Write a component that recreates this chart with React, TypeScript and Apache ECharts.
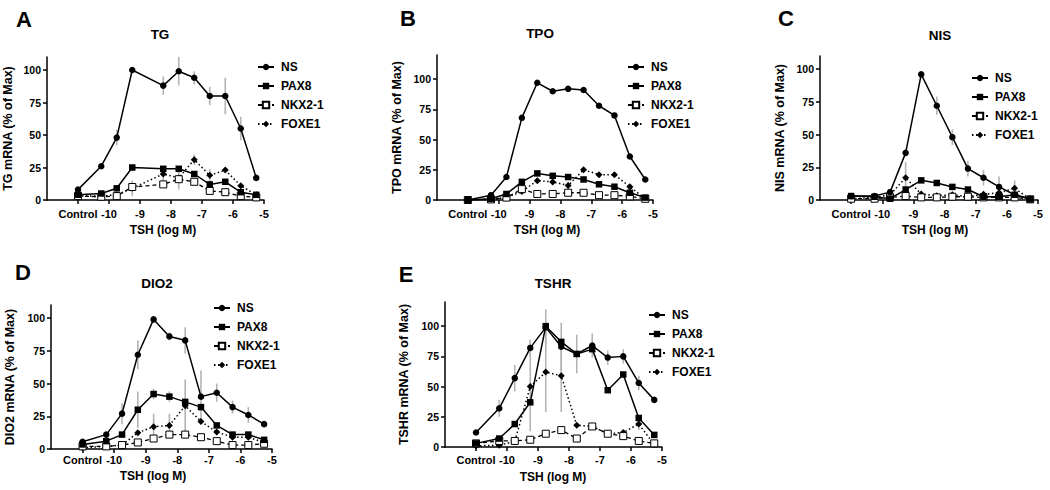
import React, { useEffect, useRef } from "react";
import * as echarts from "echarts";

// ---------- data ----------
const X_FULL = [-11, -10.25, -9.75, -9.25, -8.75, -8.25, -7.75, -7.25, -6.75, -6.25, -5.75, -5.25];
const X_TG = [-11, -10.25, -9.75, -9.25, -8.25, -7.75, -7.25, -6.75, -6.25, -5.75, -5.25];
const SERIES_NAMES = ["NS", "PAX8", "NKX2-1", "FOXE1"];
const X_TICKS = [-11, -10, -9, -8, -7, -6, -5];
const Y_TICKS = [0, 25, 50, 75, 100];

// TG (A)
const TG_NS = [8, 26, 48, 100, 88, 99, 94, 80, 80, 55, 17];
const TG_PAX8 = [4, 5, 9, 25, 24, 24, 20, 12, 14, 6, 4];
const TG_NKX21 = [3, 2.5, 3, 10, 12, 16, 14, 7, 6, 3, 2];
const TG_FOXE1 = [3, 3, 4, 9, 20, 17, 31, 19, 23, 11, 4];
const TG_NS_ERR = [0, 0, 6, 0, 7, 11, 5, 7, 14, 9, 0];
const TG_PAX8_ERR = [0, 0, 0, 0, 0, 0, 0, 0, 0, 0, 0];
const TG_NKX21_ERR = [0, 0, 0, 0, 0, 8, 0, 0, 0, 0, 0];
const TG_FOXE1_ERR = [0, 0, 0, 6, 6, 0, 4, 5, 0, 0, 0];

// TPO (B)
const TPO_NS = [0, 4, 19, 68, 97, 90, 92, 91, 78, 70, 36, 17];
const TPO_PAX8 = [0, 1, 5, 15, 22, 20, 19, 17, 13, 11, 6, 2];
const TPO_NKX21 = [0, 0.5, 2, 9, 5, 5, 6, 6, 4, 4, 3, 1];
const TPO_FOXE1 = [0, 0.5, 2, 7, 16, 15, 12, 25, 21, 21, 11, 1];
const TPO_NS_ERR = [0, 0, 0, 0, 0, 0, 0, 0, 0, 0, 0, 0];
const TPO_PAX8_ERR = [0, 0, 0, 0, 0, 0, 0, 0, 0, 0, 0, 0];
const TPO_NKX21_ERR = [0, 0, 0, 0, 0, 0, 0, 0, 0, 0, 0, 0];
const TPO_FOXE1_ERR = [0, 0, 0, 0, 0, 0, 3, 0, 0, 0, 0, 0];

// NIS (C)
const NIS_NS = [3, 3, 6, 36, 96, 72, 48, 24, 17, 10, 4, 1];
const NIS_PAX8 = [3, 2.5, 1, 8, 15, 13, 10, 8, 2.5, 2.5, 4, 0.5];
const NIS_NKX21 = [1, 1, 2, 3, 2, 2, 2.5, 2.5, 2, 2, 2, 0.5];
const NIS_FOXE1 = [1, 2, 4, 17, 4.5, 3.3, 4, 2.5, 4.3, 5.5, 9, 0.5];
const NIS_NS_ERR = [0, 0, 0, 0, 0, 7, 6, 6, 6, 8, 0, 0];
const NIS_PAX8_ERR = [0, 0, 0, 0, 0, 0, 0, 0, 0, 0, 0, 0];
const NIS_NKX21_ERR = [0, 0, 0, 0, 0, 0, 0, 0, 0, 0, 0, 0];
const NIS_FOXE1_ERR = [0, 0, 0, 12, 0, 0, 0, 0, 0, 0, 6, 0];

// DIO2 (D)
const DIO2_NS = [5.5, 11, 27, 72, 99, 86, 83, 40, 43, 32, 26, 19];
const DIO2_PAX8 = [3.5, 6, 11, 30, 42, 40, 36, 32, 18, 11, 11, 7];
const DIO2_NKX21 = [2, 2, 3, 5, 8, 11, 11, 9, 6, 3, 3, 4];
const DIO2_FOXE1 = [1, 2, 3, 12.5, 17, 18, 33, 21, 13, 9, 9, 5];
const DIO2_NS_ERR = [0, 0, 8, 11, 0, 3, 10, 20, 7, 5, 6, 0];
const DIO2_PAX8_ERR = [0, 0, 0, 14, 4, 4, 0, 0, 0, 0, 0, 0];
const DIO2_NKX21_ERR = [0, 0, 0, 0, 0, 0, 0, 0, 0, 0, 0, 0];
const DIO2_FOXE1_ERR = [0, 0, 0, 0, 10, 9, 20, 0, 0, 0, 0, 0];

// TSHR (E)
const TSHR_NS = [12, 32, 57, 82, 99, 83, 77, 84, 74, 75, 53, 39];
const TSHR_PAX8 = [3, 7, 19, 37, 100, 87, 77, 81, 47, 60, 24, 10];
const TSHR_NKX21 = [3, 5, 5, 6, 11, 14, 7, 17, 11, 9, 5, 3];
const TSHR_FOXE1 = [1, 1.5, 4.5, 50, 62, 59, 18, 17, 11, 12, 19, 2];
const TSHR_NS_ERR = [0, 7, 11, 7, 15, 20, 16, 10, 6, 6, 6, 0];
const TSHR_PAX8_ERR = [0, 0, 0, 0, 0, 0, 0, 0, 0, 0, 0, 0];
const TSHR_NKX21_ERR = [0, 0, 0, 0, 0, 0, 0, 0, 0, 0, 0, 0];
const TSHR_FOXE1_ERR = [0, 0, 0, 37, 33, 30, 0, 0, 0, 0, 5, 0];

// ---------- layout ----------
const FONT = '"Liberation Sans", Arial, Helvetica, sans-serif';

const PANELS = [
  {
    letter: "A", gene: "TG", x: X_TG,
    vals: [TG_NS, TG_PAX8, TG_NKX21, TG_FOXE1],
    errs: [TG_NS_ERR, TG_PAX8_ERR, TG_NKX21_ERR, TG_FOXE1_ERR],
    yMax: 110, grid: { left: 47, top: 57, width: 217, height: 143 }, nameGap: 33, labelMargin: 8,
    letterPos: [24, 19], titlePos: [160, 34], xNamePos: [163, 230], legendPos: [257, 60],
  },
  {
    letter: "B", gene: "TPO", x: X_FULL,
    vals: [TPO_NS, TPO_PAX8, TPO_NKX21, TPO_FOXE1],
    errs: [TPO_NS_ERR, TPO_PAX8_ERR, TPO_NKX21_ERR, TPO_FOXE1_ERR],
    yMax: 120, grid: { left: 437, top: 55, width: 216, height: 145 }, nameGap: 34, labelMargin: 8,
    letterPos: [408, 18], titlePos: [540, 33], xNamePos: [547, 230], legendPos: [627, 60],
  },
  {
    letter: "C", gene: "NIS", x: X_FULL,
    vals: [NIS_NS, NIS_PAX8, NIS_NKX21, NIS_FOXE1],
    errs: [NIS_NS_ERR, NIS_PAX8_ERR, NIS_NKX21_ERR, NIS_FOXE1_ERR],
    yMax: 110, grid: { left: 820, top: 56, width: 218, height: 144 }, nameGap: 34, labelMargin: 8,
    letterPos: [786, 18], titlePos: [940, 35], xNamePos: [935, 230], legendPos: [971, 71],
  },
  {
    letter: "D", gene: "DIO2", x: X_FULL,
    vals: [DIO2_NS, DIO2_PAX8, DIO2_NKX21, DIO2_FOXE1],
    errs: [DIO2_NS_ERR, DIO2_PAX8_ERR, DIO2_NKX21_ERR, DIO2_FOXE1_ERR],
    yMax: 110, grid: { left: 51, top: 305, width: 221, height: 144 }, nameGap: 35, labelMargin: 5,
    letterPos: [23, 272], titlePos: [157, 283], xNamePos: [153, 476], legendPos: [213, 301],
  },
  {
    letter: "E", gene: "TSHR", x: X_FULL,
    vals: [TSHR_NS, TSHR_PAX8, TSHR_NKX21, TSHR_FOXE1],
    errs: [TSHR_NS_ERR, TSHR_PAX8_ERR, TSHR_NKX21_ERR, TSHR_FOXE1_ERR],
    yMax: 120, grid: { left: 445, top: 302, width: 217, height: 145 }, nameGap: 35, labelMargin: 7,
    letterPos: [406, 274], titlePos: [553, 283], xNamePos: [553, 477], legendPos: [648, 308],
  },
];

const STYLES: any[] = [
  { symbol: "circle", symbolSize: 6.5, itemStyle: { color: "#000" }, lineStyle: { color: "#000", width: 1.5, type: "solid" } },
  { symbol: "rect", symbolSize: 6.5, itemStyle: { color: "#000" }, lineStyle: { color: "#000", width: 1.5, type: "solid" } },
  { symbol: "rect", symbolSize: 7, itemStyle: { color: "#fff", borderColor: "#000", borderWidth: 1 }, lineStyle: { color: "#000", width: 1.3, type: [4, 3] } },
  { symbol: "diamond", symbolSize: 7, itemStyle: { color: "#000" }, lineStyle: { color: "#000", width: 1.5, type: [1.5, 2.5] } },
];

const axisLineStyle = { color: "#000", width: 1.5 };

function buildOption() {
  const grid: any[] = [];
  const xAxis: any[] = [];
  const yAxis: any[] = [];
  const series: any[] = [];
  const legend: any[] = [];
  const graphic: any[] = [];

  PANELS.forEach((p, i) => {
    grid.push({ ...p.grid, containLabel: false, show: false });
    xAxis.push({
      type: "value", gridIndex: i, min: -12, max: -5, interval: 1,
      axisLine: { show: true, onZero: false, lineStyle: axisLineStyle },
      axisTick: { show: true, length: 4, customValues: X_TICKS, lineStyle: axisLineStyle },
      axisLabel: {
        customValues: X_TICKS,
        formatter: (v: number) => (v === -11 ? "Control" : String(v)),
        margin: p.labelMargin, fontSize: 11, fontWeight: "bold", color: "#000", fontFamily: FONT,
      },
      splitLine: { show: false },
    });
    yAxis.push({
      type: "value", gridIndex: i, min: 0, max: p.yMax, interval: 25,
      axisLine: { show: true, lineStyle: axisLineStyle },
      axisTick: { show: true, length: 4, customValues: Y_TICKS, lineStyle: axisLineStyle },
      axisLabel: {
        customValues: Y_TICKS, margin: 6, fontSize: 10.5, fontWeight: "bold", color: "#000", fontFamily: FONT,
      },
      splitLine: { show: false },
      name: `${p.gene} mRNA (% of Max)`, nameLocation: "middle", nameGap: p.nameGap,
      nameTextStyle: { fontSize: 12.5, fontWeight: "bold", color: "#000", fontFamily: FONT },
    });

    // error bars
    const errData: any[] = [];
    p.vals.forEach((vals, j) => {
      vals.forEach((v, k) => {
        const e = p.errs[j][k];
        if (e > 0) errData.push([p.x[k], v, e]);
      });
    });
    series.push({
      type: "custom", xAxisIndex: i, yAxisIndex: i, silent: true, z: 1,
      encode: { x: 0, y: 1 },
      data: errData,
      renderItem: (_params: any, api: any) => {
        const x = api.value(0);
        const y = api.value(1);
        const e = api.value(2);
        const p1 = api.coord([x, Math.max(0, y - e)]);
        const p2 = api.coord([x, y + e]);
        return {
          type: "line",
          shape: { x1: p1[0], y1: p1[1], x2: p2[0], y2: p2[1] },
          style: { stroke: "#b4b4b4", lineWidth: 1.6 },
        };
      },
    });

    SERIES_NAMES.forEach((name, j) => {
      series.push({
        type: "line", name, xAxisIndex: i, yAxisIndex: i, z: 3 + (3 - j),
        data: p.x.map((xv, k) => [xv, p.vals[j][k]]),
        ...STYLES[j],
        emphasis: { disabled: true },
      });
    });

    legend.push({
      orient: "vertical", left: p.legendPos[0], top: p.legendPos[1], padding: 0,
      itemGap: 5, itemWidth: 16, itemHeight: 8, selectedMode: false,
      data: SERIES_NAMES,
      textStyle: { fontSize: 12, fontWeight: "bold", fontFamily: FONT, color: "#000", lineHeight: 14, padding: [0, 0, 0, 2] },
    });

    graphic.push({
      type: "text", x: p.letterPos[0], y: p.letterPos[1],
      style: { text: p.letter, font: `bold 22px ${FONT}`, fill: "#000", align: "center", verticalAlign: "middle" },
    });
    graphic.push({
      type: "text", x: p.titlePos[0], y: p.titlePos[1],
      style: { text: p.gene, font: `bold 13.5px ${FONT}`, fill: "#000", align: "center", verticalAlign: "middle" },
    });
    graphic.push({
      type: "text", x: p.xNamePos[0], y: p.xNamePos[1],
      style: { text: "TSH (log M)", font: `bold 12px ${FONT}`, fill: "#000", align: "center", verticalAlign: "middle" },
    });
  });

  return {
    animation: false,
    backgroundColor: "#fff",
    grid, xAxis, yAxis, series, legend, graphic,
  };
}

export default function App() {
  const ref = useRef<HTMLDivElement>(null);
  useEffect(() => {
    if (!ref.current) return;
    const chart = echarts.init(ref.current, undefined, { renderer: "svg" });
    chart.setOption(buildOption() as any);
    return () => chart.dispose();
  }, []);
  return (
    <div
      ref={ref}
      style={{ position: "absolute", left: 0, top: 0, width: 1050, height: 490, background: "#fff" }}
    />
  );
}
